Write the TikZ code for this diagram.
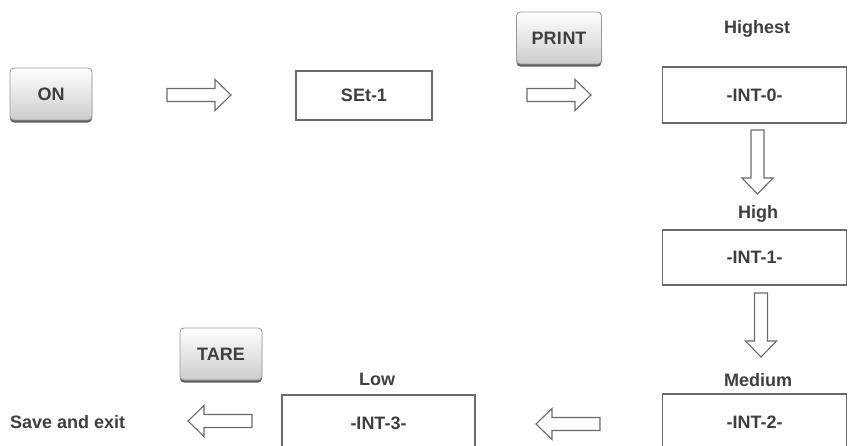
\documentclass[tikz,border=0pt]{standalone}
\usepackage{fontspec}
\setmainfont{Liberation Sans}
\usetikzlibrary{shadows}
\definecolor{inkgray}{HTML}{3F3F3F}
\definecolor{linegray}{HTML}{6A6A6A}
\begin{document}
\begin{tikzpicture}[x=1pt,y=-1pt,
  every node/.style={font=\fontsize{18}{20}\selectfont\bfseries, text=inkgray},
  keybtn/.style={rounded corners=4pt, draw=black!40, line width=0.8pt,
    top color=white, bottom color=black!20,
    drop shadow={shadow xshift=0pt, shadow yshift=-2.5pt, fill=black!70, opacity=0.9},
    minimum width=82pt, minimum height=52pt, inner sep=0pt},
  display/.style={draw=linegray, line width=1.6pt, fill=white,
    minimum height=55pt, inner sep=0pt},
  caption/.style={inner sep=0pt},
  arrowline/.style={draw=linegray, line width=1.1pt, fill=white, line join=miter},
  blockarrow/.pic={\path[arrowline] (0,-6.5) -- (48,-6.5) -- (48,-15.5) -- (64,0)
     -- (48,15.5) -- (48,6.5) -- (0,6.5) -- cycle;}]
\useasboundingbox (0,0) rectangle (849,445);
\clip (0,0) rectangle (849,445);

% keys
\node[keybtn] (on) at (51,94) {ON};
\node[keybtn, minimum width=85pt] (print) at (559,38) {PR\kern0.5pt I\kern0.5pt NT};
\node[keybtn] (tare) at (221,354) {TARE};

% display boxes
\node[display, minimum width=136pt, minimum height=49pt] (set1) at (364,95.5) {SEt-1};
\node[display, minimum width=184pt, minimum height=56pt] (int0) at (754.5,95) {-INT-0-};
\node[display, minimum width=184pt] (int1) at (754.5,257.5) {-INT-1-};
\node[display, minimum width=184pt, minimum height=56pt] (int2) at (754.5,422) {-INT-2-};
\node[display, minimum width=193pt, minimum height=56pt] (int3) at (378.5,423) {-INT-3-};

% level captions
\node[caption] (lhighest) at (757,29) {Highest};
\node[caption] (lhigh) at (758,214) {High};
\node[caption] (lmedium) at (758,380) {Medium};
\node[caption] (llow) at (377,379) {Low};
\node[caption, anchor=west] (save) at (10,422) {Save and exit};

% block arrows
\pic (a1) at (167,95) {blockarrow};
\pic (a2) at (527,95) {blockarrow};
\pic[rotate=-90] (a3) at (757.5,130) {blockarrow};
\pic[rotate=-90] (a4) at (761,293) {blockarrow};
\pic[rotate=180] (a5) at (600,424) {blockarrow};
\pic[rotate=180] (a6) at (252,421) {blockarrow};
\end{tikzpicture}
\end{document}
